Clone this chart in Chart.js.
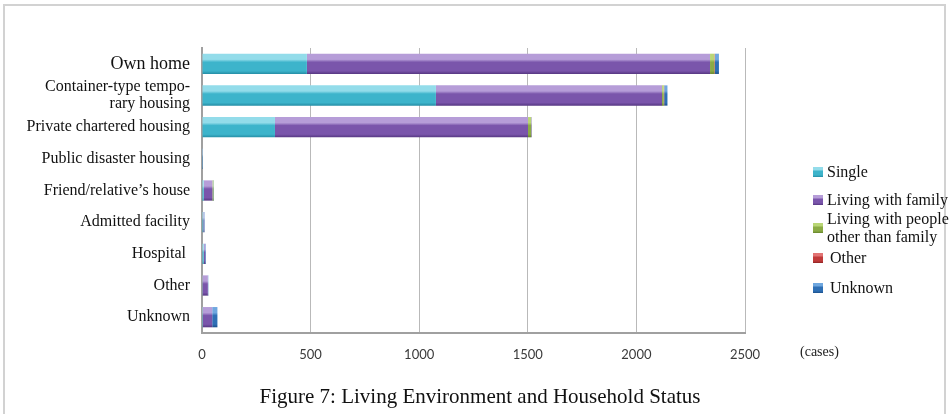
<!DOCTYPE html>
<html>
<head>
<meta charset="utf-8">
<script src="https://cdn.jsdelivr.net/npm/chart.js@4/dist/chart.umd.min.js"></script>
<style>
  html, body { margin: 0; padding: 0; background: #fff; }
  body { width: 950px; height: 414px; position: relative; overflow: hidden; font-family: "Liberation Serif", "Times New Roman", serif; }
  #frame { position: absolute; left: 3px; top: 4px; width: 943px; height: 430px; border: 2px solid #d2d2d2; box-sizing: border-box; }
  #chart { position: absolute; left: 0; top: 0; }
  .legend { position: absolute; left: 813px; top: 0; font-size: 16px; color: #111; }
  .item { position: absolute; left: 0; white-space: nowrap; line-height: 18px; }
  .mk { position: absolute; left: 0; width: 10px; height: 10px; }
  .tx { position: absolute; left: 14px; }
  #unit { position: absolute; left: 800px; top: 344px; font-size: 14px; color: #222; }
  #caption { position: absolute; left: 0; width: 960px; top: 384px; text-align: center; font-size: 21px; color: #111; }
</style>
</head>
<body>
<div id="frame"></div>
<canvas id="chart" width="950" height="414"></canvas>
<div class="legend" id="legend"></div>
<div id="unit">(cases)</div>
<div id="caption">Figure 7: Living Environment and Household Status</div>
<script>
// Residence categories (top to bottom)
const categories = [
  "Own home",
  ["Container-type tempo-", "rary housing"],
  "Private chartered housing",
  "Public disaster housing",
  "Friend/relative\u2019s house",
  "Admitted facility",
  "Hospital ",
  "Other",
  "Unknown"
];

// Household status counts (cases) per category
const single       = [483, 1077, 336, 1, 8, 6, 8, 3, 4];
const withFamily   = [1856, 1041, 1165, 1, 40, 4, 7, 24, 43];
const withOthers   = [20, 8, 14, 0, 5, 0, 0, 0, 0];
const otherStatus  = [3, 2, 1, 0, 0, 0, 0, 0, 0];
const unknown      = [18, 15, 2, 1, 2, 2, 3, 2, 24];

const xTicks = [0, 500, 1000, 1500, 2000, 2500];

const seriesNames = ["Single", "Living with family", ["Living with people", "other than family"], "Other", "Unknown"];
const seriesData = [single, withFamily, withOthers, otherStatus, unknown];

// light / base / dark shades for the bevelled bar look
const shades = [
  ["#93dcea", "#3db4cb", "#258ea6"],
  ["#b69dd8", "#7a55ab", "#563782"],
  ["#b9d676", "#8bab45", "#66852b"],
  ["#e27474", "#c03a3a", "#8e2323"],
  ["#6fa7df", "#2e6fb5", "#1c508c"]
];

const BAR_PCT = 0.64;

function bevel(i) {
  return function (ctx) {
    const s = shades[i];
    const chart = ctx.chart;
    const yS = chart.scales && chart.scales.y;
    if (ctx.type !== 'data' || !yS || !yS.height) return s[1];
    const c = yS.getPixelForValue(ctx.dataIndex);
    const h = (yS.height / categories.length) * BAR_PCT;
    const g = chart.ctx.createLinearGradient(0, c - h / 2, 0, c + h / 2);
    g.addColorStop(0, s[0]);
    g.addColorStop(0.28, s[0]);
    g.addColorStop(0.42, s[1]);
    g.addColorStop(0.85, s[1]);
    g.addColorStop(1, s[2]);
    return g;
  };
}

const datasets = seriesData.map((d, i) => ({
  label: Array.isArray(seriesNames[i]) ? seriesNames[i].join(' ') : seriesNames[i],
  data: d,
  backgroundColor: bevel(i),
  borderWidth: 0,
  barPercentage: BAR_PCT,
  categoryPercentage: 1.0
}));

new Chart(document.getElementById('chart'), {
  type: 'bar',
  data: { labels: categories, datasets: datasets },
  options: {
    indexAxis: 'y',
    responsive: false,
    animation: false,
    devicePixelRatio: 1,
    layout: { padding: { left: 0, right: 205, top: 48, bottom: 51 } },
    plugins: { legend: { display: false }, tooltip: { enabled: false } },
    scales: {
      x: {
        stacked: true,
        min: 0,
        max: 2500,
        afterBuildTicks: (scale) => { scale.ticks = xTicks.map(v => ({ value: v })); },
        afterFit: (scale) => { scale.height = 30; },
        grid: { color: '#b9b9b9', lineWidth: 1, drawTicks: false },
        border: { display: true, color: '#a0a0a0', width: 2 },
        ticks: {
          padding: 14,
          color: '#3a3a3a',
          callback: (v) => String(v),
          font: { family: 'Lato, "Open Sans", sans-serif', size: 13 }
        }
      },
      y: {
        stacked: true,
        afterFit: (scale) => { scale.width = 202; },
        grid: { display: false, drawTicks: false },
        border: { display: true, color: '#a0a0a0', width: 2 },
        ticks: {
          autoSkip: false,
          padding: 12,
          color: '#111',
          font: (ctx) => ({
            family: '"Liberation Serif", "Times New Roman", serif',
            size: ctx.index === 0 ? 18 : 16,
            lineHeight: 1.06
          })
        }
      }
    }
  }
});

// legend
const legendPos = [
  { y: 172 },
  { y: 200 },
  { y: 228 },
  { y: 258 },
  { y: 288 }
];
const legendEl = document.getElementById('legend');
seriesNames.forEach((name, i) => {
  const s = shades[i];
  const lines = Array.isArray(name) ? name : [name];
  const item = document.createElement('div');
  item.className = 'item';
  const h = lines.length * 18;
  item.style.top = (legendPos[i].y - h / 2) + 'px';
  item.style.height = h + 'px';
  const mk = document.createElement('div');
  mk.className = 'mk';
  mk.style.top = (h / 2 - 5) + 'px';
  mk.style.background = 'linear-gradient(' + s[0] + ' 0%, ' + s[0] + ' 25%, ' + s[1] + ' 45%, ' + s[1] + ' 80%, ' + s[2] + ' 100%)';
  const tx = document.createElement('div');
  tx.className = 'tx';
  tx.style.left = (i >= 3 ? 17 : 14) + 'px';
  tx.innerHTML = lines.join('<br>');
  item.appendChild(mk);
  item.appendChild(tx);
  legendEl.appendChild(item);
});
</script>
</body>
</html>
